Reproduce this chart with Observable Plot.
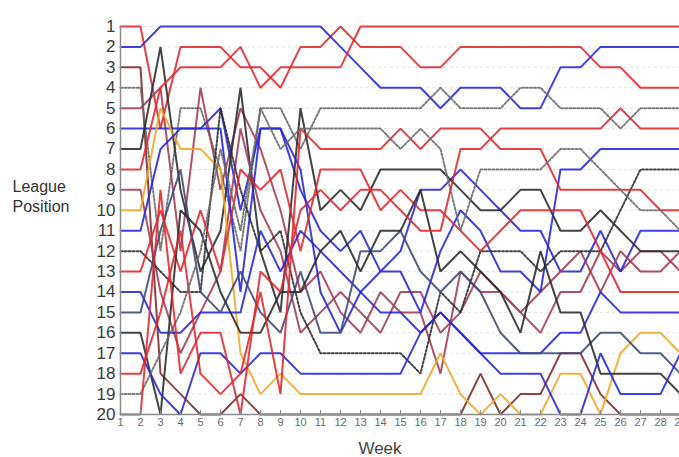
<!DOCTYPE html>
<html><head><meta charset="utf-8">
<script src="https://cdn.jsdelivr.net/npm/d3@7"></script>
<script src="https://cdn.jsdelivr.net/npm/@observablehq/plot@0.6"></script>
<style>
body{margin:0;background:#fff;font-family:"Liberation Sans",Arial,sans-serif;}
</style>
</head><body><div id="chart"></div>
<script>
const weeks = [1,2,3,4,5,6,7,8,9,10,11,12,13,14,15,16,17,18,19,20,21,22,23,24,25,26,27,28,29];
const positionTicks = [1,2,3,4,5,6,7,8,9,10,11,12,13,14,15,16,17,18,19,20];

const team01 = [1,1,6,2,2,2,3,3,4,2,2,1,2,2,2,3,3,2,2,2,2,2,2,2,3,3,4,4,4];
const team02 = [2,2,1,1,1,1,1,1,1,1,1,2,3,4,4,4,5,4,4,4,5,5,3,3,2,2,2,2,2];
const team03 = [3,3,18,19,20,20,19,20,20,20,20,20,20,20,20,20,20,20,18,20,19,19,17,17,19,20,20,20,20];
const team04 = [4,4,12,5,5,8,12,5,5,7,5,5,5,5,5,5,4,5,5,5,4,4,5,5,5,6,5,5,5];
const team05 = [5,5,4,12,4,9,5,7,10,14,13,15,16,14,15,15,18,13,14,14,15,16,14,14,12,13,12,12,13];
const team06 = [6,6,6,6,6,5,10,6,6,9,11,12,11,13,12,9,9,8,9,10,11,11,13,13,11,13,11,11,11];
const team07 = [7,7,2,9,13,11,4,12,15,5,10,9,10,8,8,8,8,9,10,10,9,9,11,11,10,11,12,12,12];
const team08 = [8,8,4,3,3,3,2,4,3,3,3,3,1,1,1,1,1,1,1,1,1,1,1,1,1,1,1,1,1];
const team09 = [9,9,14,17,15,13,6,10,12,16,15,14,15,16,14,14,16,15,13,14,15,14,13,12,14,12,13,13,12];
const team10 = [10,10,5,7,7,8,17,19,18,19,19,19,19,19,19,19,17,19,20,19,20,20,18,18,20,17,16,16,17];
const team11 = [11,11,7,6,6,6,14,6,6,8,14,16,14,13,13,15,12,10,11,13,13,14,8,8,7,7,7,7,7];
const team12 = [12,12,13,14,14,5,9,12,11,15,17,17,17,17,17,18,14,15,12,12,12,13,12,12,12,10,8,8,8];
const team13 = [13,13,10,13,10,13,8,9,8,12,8,8,8,10,9,10,10,11,12,11,10,10,10,10,12,14,14,14,14];
const team14 = [14,14,16,16,15,15,15,11,13,11,12,13,14,15,15,16,15,16,17,17,17,17,16,16,14,15,15,15,15];
const team15 = [15,15,11,8,14,15,13,15,16,13,16,16,12,12,11,13,14,13,14,16,17,17,17,17,16,16,17,17,18];
const team16 = [16,16,20,10,11,14,16,16,14,14,12,11,13,11,11,9,13,12,13,14,16,12,15,15,18,18,18,18,19];
const team17 = [17,17,19,20,17,17,18,17,17,18,18,18,18,18,18,16,15,16,17,18,18,18,20,20,17,19,19,19,17];
const team18 = [18,18,15,11,18,19,18,14,19,6,7,7,7,7,6,7,6,6,6,7,7,7,9,9,9,9,9,10,10];
const team19 = [19,19,17,15,12,7,11,5,7,6,6,6,6,6,7,6,7,11,8,8,8,8,7,7,8,9,10,10,11];
const team20 = [20,20,9,18,16,16,20,13,14,10,9,10,9,9,10,11,11,7,7,6,6,6,6,6,6,5,6,6,6];

const series = [team01,team02,team03,team04,team05,team06,team07,team08,team09,team10,
                team11,team12,team13,team14,team15,team16,team17,team18,team19,team20];

// styles (kept apart from data)
const RED="#e3262a", BLUE="#2626de", BLK="#2a2a2a", MAR="#a33a55", BRN="#7d2a28",
      ORG="#f2a623", GRY="#6a6a6a", NAVY="#3d4a78";
const lineStyle = [
  {c:RED},{c:BLUE},{c:BRN},{c:GRY,d:"2,2"},{c:MAR},{c:BLUE},{c:BLK},{c:RED},{c:MAR},{c:ORG},
  {c:BLUE},{c:BLK,d:"2,2"},{c:RED},{c:BLUE},{c:NAVY},{c:BLK},{c:BLUE},{c:RED},{c:GRY,d:"2,2"},{c:RED}
];

const rows = series.map(vals => vals.map((p,i)=>({week: weeks[i], pos: p})));

const lineMarks = rows.map((r,k)=>Plot.line(r, {
  x:"week", y:"pos", stroke: lineStyle[k].c, strokeWidth: 2, strokeOpacity: 0.88,
  strokeDasharray: lineStyle[k].d || null, strokeLinejoin:"miter"
}));

const chart = Plot.plot({
  width: 679, height: 457,
  marginLeft: 120, marginRight: 0, marginTop: 26, marginBottom: 43,
  style: {fontFamily: "'Liberation Sans', Arial, sans-serif", background:"#fff", overflow:"hidden"},
  x: {domain:[1,29], range:[120,680]},
  y: {domain:[1,20], reverse:true},
  marks: [
    Plot.ruleY(positionTicks, {y: d=>d, stroke:"#e2e2e2", strokeDasharray:"3,3", strokeWidth:1}),
    ...lineMarks,
    Plot.ruleX([1], {x:d=>d, y1:1, y2:20, stroke:"#8a8a8a", strokeWidth:1.5}),
    Plot.ruleY([20], {y:d=>d, stroke:"#8a8a8a", strokeWidth:1.5}),
    Plot.ruleX(weeks, {x:d=>d, y1:20, y2:19.8, stroke:"#8a8a8a"}),
    Plot.axisY(positionTicks, {tickSize:0, tickPadding:5, fontSize:17, color:"#3a3a3a", label:null}),
    Plot.axisX(weeks, {tickSize:0, tickPadding:4, fontSize:11, color:"#6a6a6a", label:null, tickFormat:d=>String(d)}),
    Plot.text(["League\nPosition"], {frameAnchor:"left", textAnchor:"start", dx:-108, dy:-25, fontSize:16, lineHeight:1.25, fill:"#333"}),
    Plot.text(["Week"], {frameAnchor:"bottom", dx:-20, dy:34, fontSize:17, fill:"#444", lineAnchor:"middle"})
  ]
});
document.getElementById("chart").appendChild(chart);
</script>
</body></html>
